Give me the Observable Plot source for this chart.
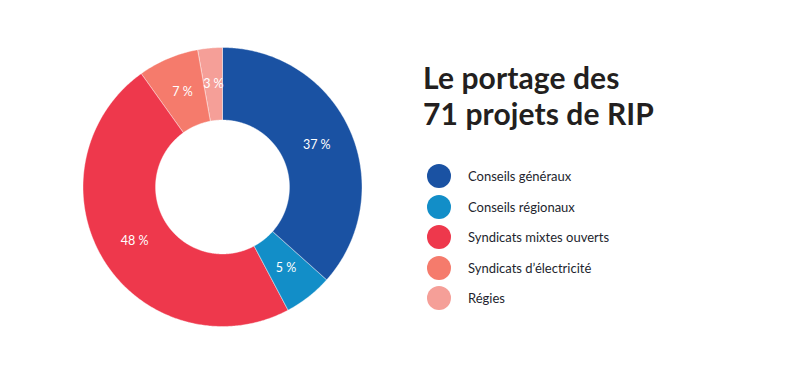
<!DOCTYPE html>
<html><head><meta charset="utf-8">
<script src="https://cdn.jsdelivr.net/npm/d3@7"></script>
<script src="https://cdn.jsdelivr.net/npm/@observablehq/plot@0.6"></script>
<style>
html,body{margin:0;padding:0;background:#fff;}
#wrap{position:relative;width:811px;height:380px;font-family:Lato,"Open Sans",sans-serif;}
#title{position:absolute;left:423px;top:59px;font-size:30px;font-weight:700;line-height:36px;color:#231f20;letter-spacing:0.1px;}
#legend{position:absolute;left:427px;top:161px;}
.item{display:flex;align-items:center;height:30.5px;}
.sw{width:24px;height:24px;border-radius:50%;margin-right:17px;}
.lab{font-size:13px;color:#231f2e;}
</style></head>
<body><div id="wrap"><div id="chart"></div><div id="title"></div><div id="legend"></div></div>
<script>
const categories = ["Conseils généraux","Conseils régionaux","Syndicats mixtes ouverts","Syndicats d’électricité","Régies"];
const counts = [26, 4, 34, 5, 2];
const pctLabels = ["37 %","5 %","48 %","7 %","3 %"];
const colors = ["#1a52a3","#128ec8","#ee384c","#f57b6c","#f59f98"];
const titleLines = ["Le portage des","71 projets de RIP"];

const innerR = 0.48, outerR = 1;
const pie = d3.pie().sort(null).value(d => d)(counts);
const polys = [];
const labels = [];
pie.forEach((p, i) => {
  const steps = Math.max(4, Math.ceil((p.endAngle - p.startAngle) / 0.01));
  for (let k = 0; k <= steps; k++) {
    const a = p.startAngle + (p.endAngle - p.startAngle) * k / steps;
    polys.push({cat: categories[i], x: outerR * Math.sin(a), y: outerR * Math.cos(a)});
  }
  for (let k = steps; k >= 0; k--) {
    const a = p.startAngle + (p.endAngle - p.startAngle) * k / steps;
    polys.push({cat: categories[i], x: innerR * Math.sin(a), y: innerR * Math.cos(a)});
  }
  const m = (p.startAngle + p.endAngle) / 2, r = 0.74;
  labels.push({text: pctLabels[i], x: r * Math.sin(m), y: r * Math.cos(m)});
});

const W = 811, H = 380, cx = 222, cy = 186.5, R = 139.5;
const chart = Plot.plot({
  width: W, height: H, margin: 0,
  x: {domain: [-cx / R, (W - cx) / R], axis: null},
  y: {domain: [-(H - cy) / R, cy / R], axis: null},
  color: {domain: categories, range: colors},
  style: {fontFamily: "Lato, sans-serif"},
  marks: [
    Plot.line(polys, {x: "x", y: "y", z: "cat", fill: "cat", stroke: "white", strokeWidth: 0.4, curve: "linear-closed"}),
    Plot.text(labels, {x: "x", y: "y", text: "text", fill: "white", fontSize: 12.5})
  ]
});
document.getElementById("chart").appendChild(chart);
document.getElementById("title").innerHTML = titleLines.join("<br>");
const leg = document.getElementById("legend");
categories.forEach((c, i) => {
  const it = document.createElement("div"); it.className = "item";
  it.innerHTML = `<div class="sw" style="background:${colors[i]}"></div><span class="lab">${c}</span>`;
  leg.appendChild(it);
});
</script></body></html>
